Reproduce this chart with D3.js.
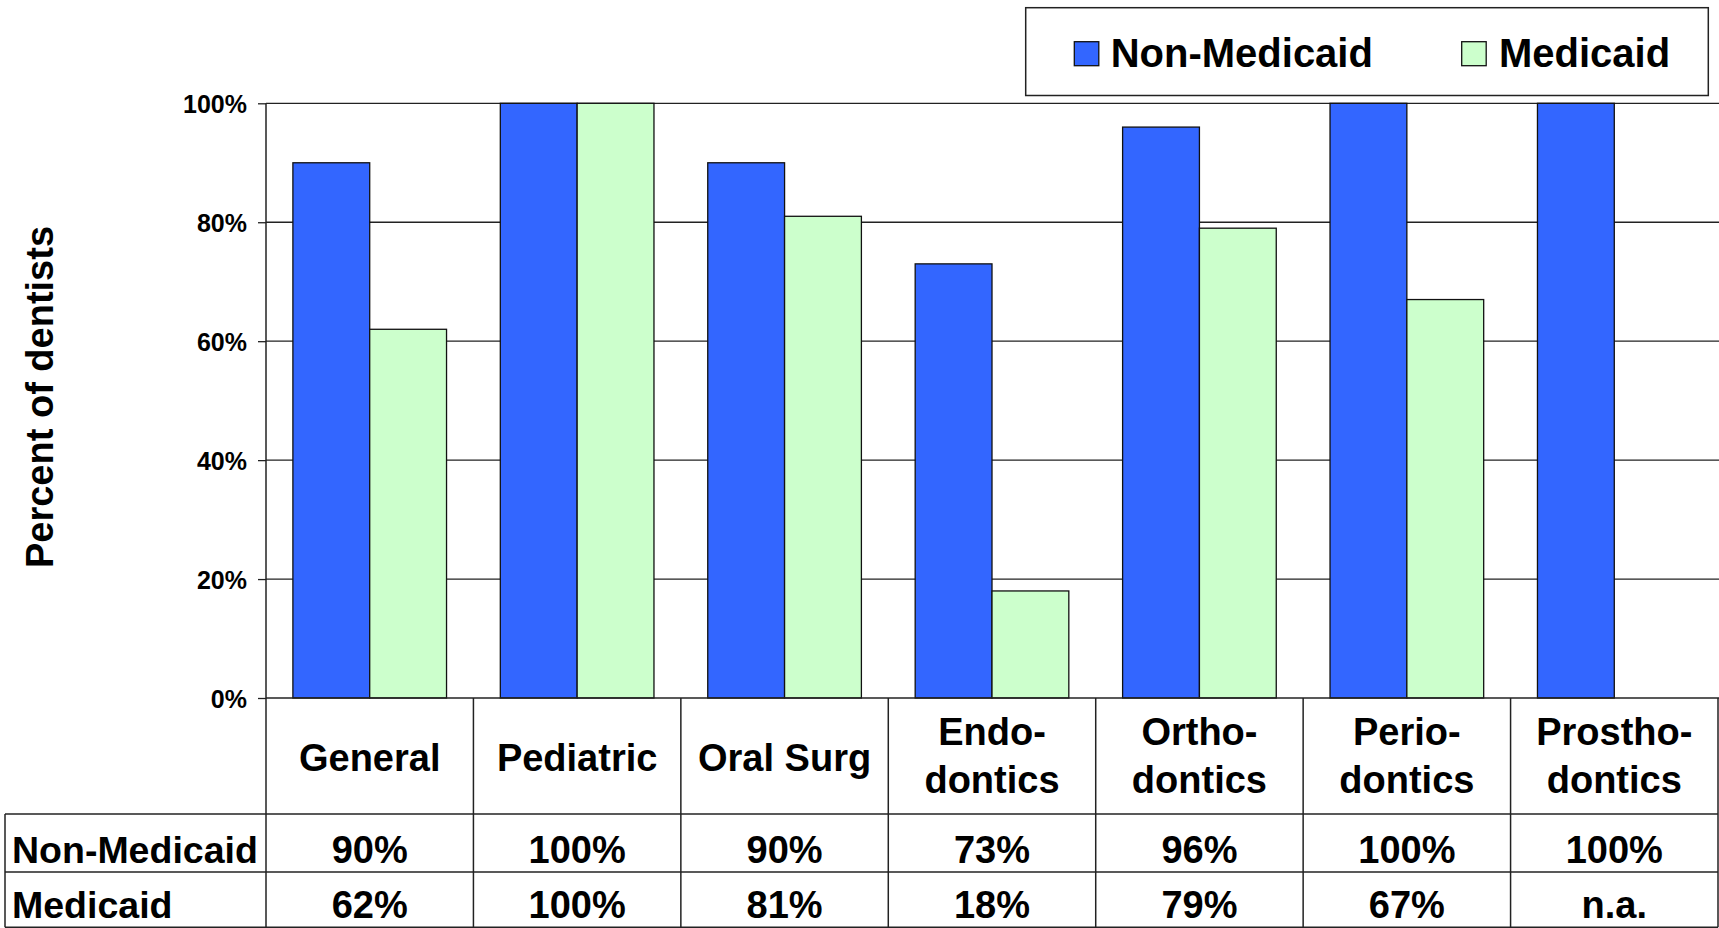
<!DOCTYPE html>
<html>
<head>
<meta charset="utf-8">
<script src="https://cdn.jsdelivr.net/npm/d3@7"></script>
<style>
  html, body { margin: 0; padding: 0; background: #fff; }
  svg { display: block; font-family: "Liberation Sans", Arial, sans-serif; font-weight: bold; }
</style>
</head>
<body>
<svg id="chart" width="1719" height="928"></svg>
<script>
// ---- Data ----
const categories = ["General", "Pediatric", "Oral Surg", "Endodontics", "Orthodontics", "Periodontics", "Prosthodontics"];
const categoryLines = [["General"], ["Pediatric"], ["Oral Surg"], ["Endo-", "dontics"], ["Ortho-", "dontics"], ["Perio-", "dontics"], ["Prostho-", "dontics"]];
const seriesNames = ["Non-Medicaid", "Medicaid"];
const nonMedicaid = [90, 100, 90, 73, 96, 100, 100];
const medicaid = [62, 100, 81, 18, 79, 67, null];
const yTicks = [0, 20, 40, 60, 80, 100];
const colors = ["#3366FF", "#CCFFCC"];

const seriesValues = [nonMedicaid, medicaid];

// ---- Layout ----
const svg = d3.select("#chart");
const plotLeft = 266, plotRight = 1718, plotTop = 103.3, plotBottom = 698;
const row1Bottom = 814, row2Bottom = 872, tableBottom = 927.3, tableLeft = 5;

const x = d3.scaleBand().domain(categories).range([plotLeft, plotRight]).paddingInner(0).paddingOuter(0);
const xs = d3.scaleBand().domain(seriesNames).range([0, x.bandwidth()]).paddingInner(0).paddingOuter(0.35);
const y = d3.scaleLinear().domain([0, 100]).range([plotBottom, plotTop]);

// gridlines
svg.append("g")
  .selectAll("line")
  .data(yTicks.filter(d => d > 0))
  .join("line")
  .attr("x1", plotLeft).attr("x2", 1719)
  .attr("y1", d => y(d)).attr("y2", d => y(d))
  .attr("stroke", "#222").attr("stroke-width", 1.3);

// y axis
const yAxis = d3.axisLeft(y).tickValues(yTicks).tickFormat(d => d + "%").tickSize(8).tickPadding(11);
const ga = svg.append("g").attr("transform", `translate(${plotLeft},0)`).call(yAxis);
ga.select(".domain").remove();
ga.selectAll(".tick line").attr("stroke", "#222").attr("stroke-width", 1.3);
ga.selectAll(".tick text")
  .attr("fill", "#000")
  .style("font-size", "25px")
  .style("font-weight", "bold")
  .style("font-family", '"Liberation Sans", Arial, sans-serif')
  .attr("dy", "0.36em");

// bars
const barData = [];
categories.forEach((c, i) => {
  seriesNames.forEach((s, j) => {
    const v = seriesValues[j][i];
    if (v !== null) barData.push({ c, s, v, j });
  });
});
svg.append("g")
  .selectAll("rect")
  .data(barData)
  .join("rect")
  .attr("x", d => x(d.c) + xs(d.s))
  .attr("y", d => y(d.v))
  .attr("width", xs.bandwidth())
  .attr("height", d => y(0) - y(d.v))
  .attr("fill", d => colors[d.j])
  .attr("stroke", "#111")
  .attr("stroke-width", 1.3);

// axis lines (left axis + baseline)
svg.append("line").attr("x1", plotLeft).attr("x2", plotLeft).attr("y1", plotTop).attr("y2", tableBottom)
  .attr("stroke", "#222").attr("stroke-width", 1.5);
svg.append("line").attr("x1", plotLeft).attr("x2", 1719).attr("y1", plotBottom).attr("y2", plotBottom)
  .attr("stroke", "#222").attr("stroke-width", 1.5);

// y axis title
svg.append("text")
  .attr("transform", `translate(53,397) rotate(-90)`)
  .attr("text-anchor", "middle")
  .style("font-size", "38px")
  .text("Percent of dentists");

// ---- Data table ----
const tbl = svg.append("g");
const lineStyle = sel => sel.attr("stroke", "#222").attr("stroke-width", 1.5);
// horizontal lines
tbl.append("line").attr("x1", tableLeft).attr("x2", plotRight).attr("y1", row1Bottom).attr("y2", row1Bottom).call(lineStyle);
tbl.append("line").attr("x1", tableLeft).attr("x2", plotRight).attr("y1", row2Bottom).attr("y2", row2Bottom).call(lineStyle);
tbl.append("line").attr("x1", tableLeft).attr("x2", plotRight).attr("y1", tableBottom).attr("y2", tableBottom).call(lineStyle);
tbl.append("line").attr("x1", tableLeft).attr("x2", tableLeft).attr("y1", row1Bottom).attr("y2", tableBottom).call(lineStyle);
// vertical dividers
tbl.selectAll("line.vdiv")
  .data(categories)
  .join("line")
  .attr("class", "vdiv")
  .attr("x1", d => x(d) + x.bandwidth()).attr("x2", d => x(d) + x.bandwidth())
  .attr("y1", plotBottom).attr("y2", tableBottom)
  .call(lineStyle);

// category labels
const catG = tbl.selectAll("text.cat")
  .data(categories)
  .join("text")
  .attr("class", "cat")
  .attr("text-anchor", "middle")
  .style("font-size", "38px")
  .attr("x", d => x(d) + x.bandwidth() / 2)
  .attr("y", (d, i) => categoryLines[i].length === 1 ? 770.7 : 745);
catG.each(function (d, i) {
  const t = d3.select(this);
  categoryLines[i].forEach((ln, k) => {
    t.append("tspan")
      .attr("x", x(d) + x.bandwidth() / 2)
      .attr("dy", k === 0 ? 0 : 48.3)
      .text(ln);
  });
});

// row labels + values
const rowBaselines = [862.7, 917.5];
seriesNames.forEach((s, j) => {
  tbl.append("text")
    .attr("x", 12)
    .attr("y", rowBaselines[j])
    .style("font-size", "37.5px")
    .text(s);
  tbl.selectAll("text.val" + j)
    .data(categories)
    .join("text")
    .attr("class", "val" + j)
    .attr("text-anchor", "middle")
    .style("font-size", "38px")
    .attr("x", d => x(d) + x.bandwidth() / 2)
    .attr("y", rowBaselines[j])
    .text((d, i) => seriesValues[j][i] === null ? "n.a." : seriesValues[j][i] + "%");
});

// ---- Legend ----
const lg = svg.append("g");
lg.append("rect").attr("x", 1025.7).attr("y", 7.7).attr("width", 682.6).attr("height", 87.8)
  .attr("fill", "#fff").attr("stroke", "#222").attr("stroke-width", 1.5);
const legendItems = [
  { name: seriesNames[0], sx: 1074.3, tx: 1110.7, color: colors[0] },
  { name: seriesNames[1], sx: 1461.7, tx: 1499, color: colors[1] }
];
legendItems.forEach(it => {
  lg.append("rect").attr("x", it.sx).attr("y", 41.7).attr("width", 24.5).attr("height", 24)
    .attr("fill", it.color).attr("stroke", "#111").attr("stroke-width", 1.3);
  lg.append("text").attr("x", it.tx).attr("y", 66.7).style("font-size", "40px").text(it.name);
});
</script>
</body>
</html>
